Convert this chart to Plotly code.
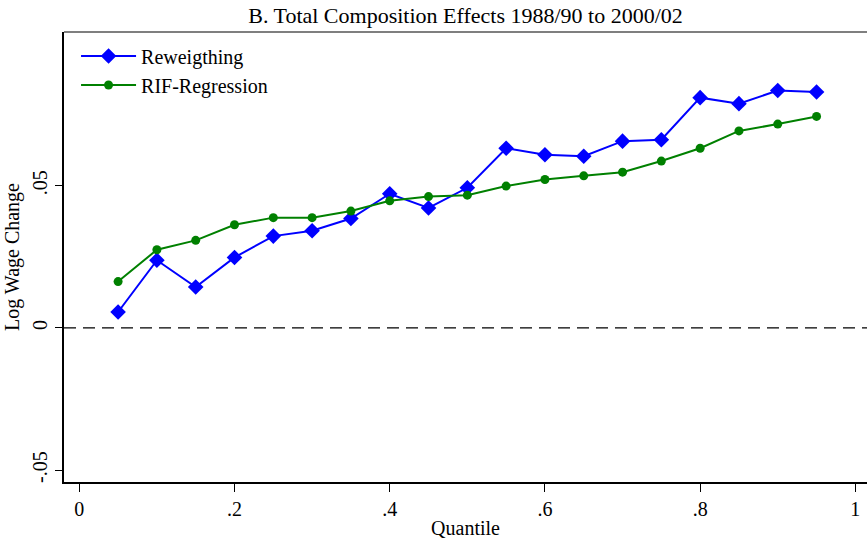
import plotly.graph_objects as go

quantiles = [0.05, 0.10, 0.15, 0.20, 0.25, 0.30, 0.35, 0.40, 0.45, 0.50,
             0.55, 0.60, 0.65, 0.70, 0.75, 0.80, 0.85, 0.90, 0.95]
reweighting = [0.0056, 0.0238, 0.0144, 0.0248, 0.0323, 0.0342, 0.0385, 0.0472, 0.0422, 0.0493,
               0.0632, 0.0609, 0.0604, 0.0657, 0.0662, 0.0810, 0.0789, 0.0835, 0.0830]
rif_regression = [0.0163, 0.0275, 0.0308, 0.0363, 0.0388, 0.0388, 0.0411, 0.0447, 0.0462, 0.0467,
                  0.0499, 0.0522, 0.0535, 0.0548, 0.0587, 0.0632, 0.0693, 0.0717, 0.0744]
x_ticks = [0, 0.2, 0.4, 0.6, 0.8, 1]
x_ticklabels = ["0", ".2", ".4", ".6", ".8", "1"]
y_ticks = [-0.05, 0, 0.05]
y_ticklabels = ["-.05", "0", ".05"]

FONT = "Liberation Serif"

fig = go.Figure()
fig.add_trace(go.Scatter(
    x=quantiles, y=reweighting, name="Reweigthing", mode="lines+markers",
    line=dict(color="#0000ff", width=2),
    marker=dict(symbol="diamond", size=12, color="#0000ff"),
))
fig.add_trace(go.Scatter(
    x=quantiles, y=rif_regression, name="RIF-Regression", mode="lines+markers",
    line=dict(color="#008000", width=2),
    marker=dict(symbol="circle", size=9, color="#008000"),
))

fig.add_shape(type="line", xref="paper", yref="y", x0=0, x1=1, y0=0, y1=0,
              line=dict(color="black", width=1.3, dash="12px,7px"), layer="below")
fig.add_shape(type="line", xref="paper", yref="paper", x0=0, x1=1, y0=1, y1=1,
              line=dict(color="#555555", width=1.5))

fig.update_layout(
    width=867, height=540,
    margin=dict(l=64, r=0, t=32, b=57.5),
    paper_bgcolor="white", plot_bgcolor="white",
    font=dict(family=FONT, size=20, color="black"),
    title=dict(text="B. Total Composition Effects 1988/90 to 2000/02",
               x=0.5, xref="paper", xanchor="center", y=1 - 15 / 540, yref="container",
               yanchor="middle", pad=dict(t=0, b=0),
               font=dict(family=FONT, size=22, color="black")),
    showlegend=True,
    legend=dict(x=0.015, y=0.99, xanchor="left", yanchor="top",
                bgcolor="rgba(0,0,0,0)", itemwidth=55,
                font=dict(family=FONT, size=20, color="black")),
    xaxis=dict(range=[-0.0197, 1.015], tickvals=x_ticks, ticktext=x_ticklabels,
               showgrid=False, zeroline=False, showline=True, linecolor="black",
               linewidth=1.5, ticks="outside", ticklen=8, tickwidth=1, tickcolor="black",
               automargin=False,
               title=dict(text="Quantile", standoff=2, font=dict(size=20))),
    yaxis=dict(range=[-0.0542, 0.1041], tickvals=y_ticks, ticktext=y_ticklabels,
               showgrid=False, zeroline=False, showline=True, linecolor="black",
               linewidth=1.5, ticks="outside", ticklen=7, tickwidth=1, tickcolor="black",
               tickangle=-90, automargin=False,
               title=dict(text="Log Wage Change", standoff=4, font=dict(size=20))),
)

fig.write_html("out.html", config={"displayModeBar": False},
               post_script="document.body.style.margin='0';")
